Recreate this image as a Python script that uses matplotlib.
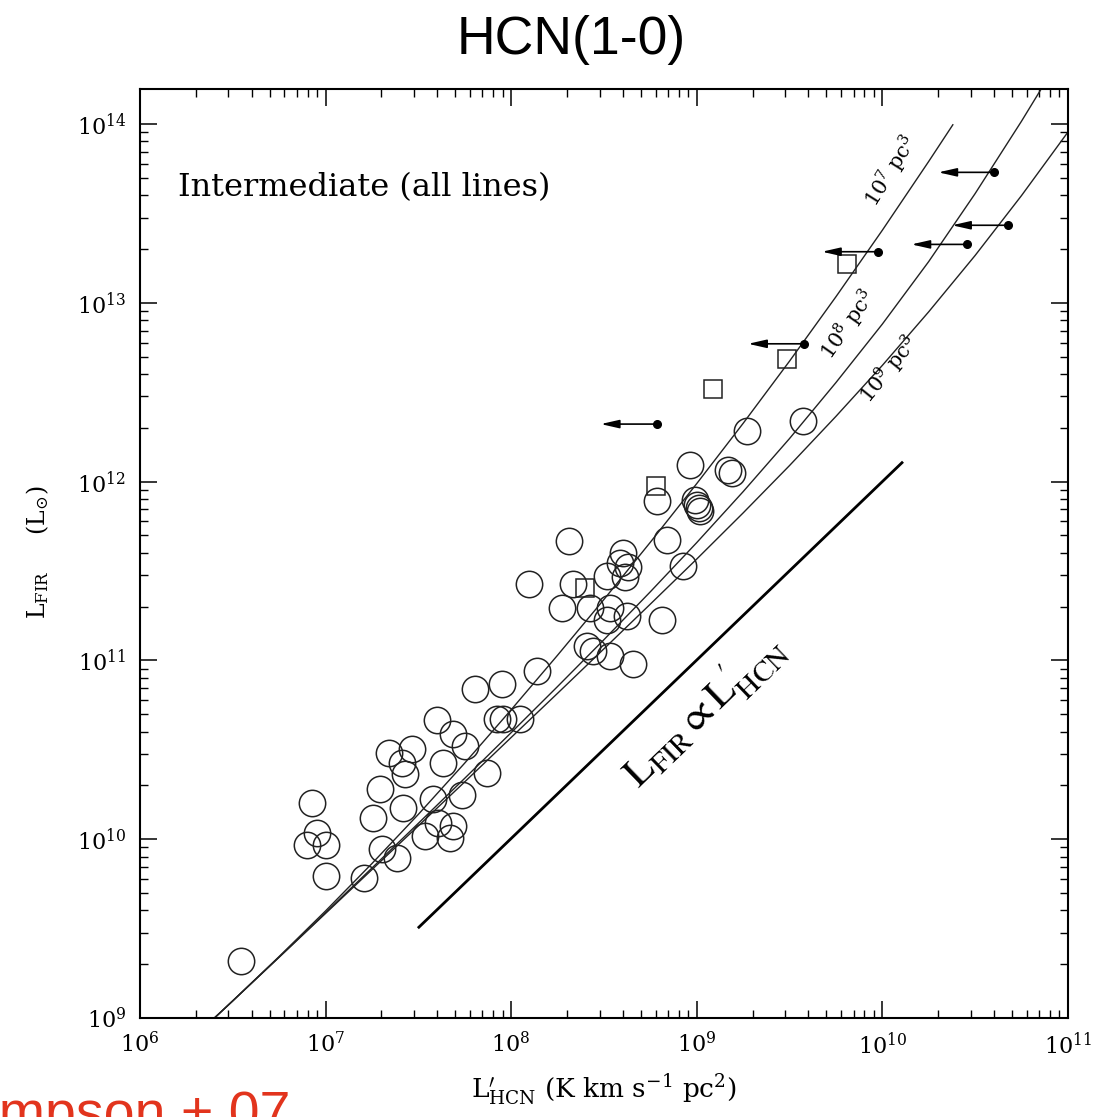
import numpy as np
import matplotlib
matplotlib.use("Agg")
import matplotlib.pyplot as plt
from matplotlib.ticker import LogLocator, LogFormatterMathtext, NullFormatter

plt.rcParams['font.family'] = ['DejaVu Serif']
plt.rcParams['mathtext.fontset'] = 'dejavuserif'

# galaxies (log10 L'_HCN, log10 L_FIR)
circ_lhcn = [6.543, 6.925, 6.952, 6.901, 7.002, 7.001, 7.207, 7.257, 7.293, 7.342,
             7.464, 7.410, 7.428, 7.419, 7.305, 7.383, 7.536, 7.580, 7.599, 7.688,
             7.751, 7.634, 7.737, 7.607, 7.688, 7.670, 7.868, 7.805, 7.922, 7.949,
             8.047, 7.957, 8.137, 8.098, 8.313, 8.335, 8.272, 8.425, 8.515, 8.602,
             8.586, 8.629, 8.613, 8.838, 8.532, 8.515, 8.622, 8.407, 8.441, 8.532,
             8.658, 8.811, 8.963, 9.170, 9.188, 8.784, 8.990, 8.999, 9.010, 9.020,
             8.927, 9.269, 9.574]
circ_lfir = [9.320, 10.201, 10.034, 9.968, 9.968, 9.792, 9.786, 10.121, 10.279, 10.480,
             10.503, 10.428, 10.363, 10.177, 9.948, 9.894, 10.018, 10.223, 10.666, 10.587,
             10.521, 10.428, 10.247, 10.093, 10.074, 10.009, 10.373, 10.838, 10.670, 10.866,
             10.670, 10.670, 10.940, 11.425, 11.667, 11.425, 11.294, 11.294, 11.471, 11.603,
             11.547, 11.525, 11.469, 11.676, 11.296, 11.229, 11.247, 11.080, 11.052, 11.024,
             10.978, 11.229, 12.095, 12.065, 12.050, 11.890, 11.900, 11.872, 11.850, 11.835,
             11.527, 12.281, 12.337]

sq_lhcn = [9.812, 9.484, 9.086, 8.779, 8.398]
sq_lfir = [13.218, 12.684, 12.521, 11.974, 11.408]

# upper limits in L'_HCN
lim_lhcn = [9.976, 9.578, 8.784, 10.603, 10.677, 10.458]
lim_lfir = [13.286, 12.771, 12.322, 13.730, 13.434, 13.327]

# model tracks for three cloud volumes
track_lhcn = [6.3, 6.5, 6.75, 7.0, 7.25, 7.5, 7.75, 8.0, 8.25, 8.5, 8.75,
              9.0, 9.25, 9.5, 9.75, 10.0, 10.25, 10.5, 10.75, 11.0]
v7_lfir = [8.902, 9.096, 9.344, 9.599, 9.864, 10.139, 10.426, 10.724, 11.029, 11.341,
           11.661, 11.989, 12.326, 12.674, 13.034, 13.406, 13.791]
v8_lfir = [8.902, 9.096, 9.341, 9.589, 9.839, 10.089, 10.341, 10.596, 10.854, 11.116,
           11.384, 11.659, 11.944, 12.241, 12.554, 12.881, 13.231, 13.611, 14.016, 14.441]
v9_lfir = [8.902, 9.096, 9.340, 9.585, 9.830, 10.075, 10.321, 10.569, 10.816, 11.065,
           11.315, 11.567, 11.825, 12.090, 12.365, 12.650, 12.950, 13.265, 13.600, 13.955]
v7_end = (10.38, 13.996)

# linear reference relation
lin_lhcn = [7.503, 10.106]
lin_lfir = [9.508, 12.106]

p = lambda v: 10 ** np.array(v)

fig = plt.figure(figsize=(11.16, 11.17), dpi=100)
ax = fig.add_axes([0.1254, 0.0886, 0.8315, 0.8317])

v7_x = track_lhcn[:len(v7_lfir)] + [v7_end[0]]
v7_y = v7_lfir + [v7_end[1]]
for lx, ly in [(v7_x, v7_y), (track_lhcn, v8_lfir), (track_lhcn, v9_lfir)]:
    ax.plot(p(lx), p(ly), color='#222222', lw=1.0)

ax.plot(p(lin_lhcn), p(lin_lfir), color='black', lw=2.0)

ax.plot(p(circ_lhcn), p(circ_lfir), 'o', ms=19, mfc='none', mec='#222222', mew=1.1)
ax.plot(p(sq_lhcn), p(sq_lfir), 's', ms=13.5, mfc='none', mec='#222222', mew=1.1)
ax.plot(p(lim_lhcn), p(lim_lfir), 'o', ms=5.5, color='black')
for lx, ly in zip(lim_lhcn, lim_lfir):
    ax.annotate('', xy=(10 ** lx / 2, 10 ** ly), xytext=(10 ** lx, 10 ** ly),
                arrowprops=dict(arrowstyle='-|>,head_length=1.1,head_width=0.25',
                                color='black', lw=1.2, shrinkA=0, shrinkB=0))

ax.set_xscale('log')
ax.set_yscale('log')
ax.set_xlim(1e6, 1e11)
ax.set_ylim(1e9, 10 ** 14.196)

for axis in [ax.xaxis, ax.yaxis]:
    axis.set_major_locator(LogLocator(base=10, numticks=20))
    axis.set_minor_locator(LogLocator(base=10, subs=np.arange(2, 10), numticks=20))
    axis.set_major_formatter(LogFormatterMathtext())
    axis.set_minor_formatter(NullFormatter())

ax.tick_params(which='both', direction='in', top=True, right=True, labelsize=16)
ax.tick_params(which='major', length=12, width=1.1, pad=10)
ax.tick_params(which='minor', length=6, width=1.0)
for s in ax.spines.values():
    s.set_linewidth(1.5)

ax.text(0.041, 0.8945, 'Intermediate (all lines)', transform=ax.transAxes,
        fontsize=23, va='center', ha='left')

ax.text(10 ** 10.046, 10 ** 13.737, r'$10^7\ \mathrm{pc}^3$', rotation=58,
        fontsize=15, ha='center', va='center')
ax.text(10 ** 9.815, 10 ** 12.877, r'$10^8\ \mathrm{pc}^3$', rotation=55,
        fontsize=15, ha='center', va='center')
ax.text(10 ** 10.036, 10 ** 12.626, r'$10^9\ \mathrm{pc}^3$', rotation=51,
        fontsize=15, ha='center', va='center')

ax.text(10 ** 9.04, 10 ** 10.72, r'$\mathrm{L_{FIR}} \propto \mathrm{L^{\prime}_{HCN}}$',
        rotation=44, fontsize=30, ha='center', va='center', math_fontfamily='stix')

fig.text(38 / 1116, 1 - 552 / 1117, r'$\mathrm{L_{FIR}}\ \ \ \ \ (\mathrm{L_{\odot}})$',
         rotation=90, fontsize=17, ha='center', va='center')
fig.text(604 / 1116, 1 - 1090 / 1117, r"$\mathrm{L^{\prime}_{HCN}}$ (K km s$^{-1}$ pc$^{2}$)",
         fontsize=19, ha='center', va='center')

fig.text(571 / 1116, 1 - 40 / 1117, 'HCN(1-0)', fontsize=38.5, ha='center', va='center',
         family='Liberation Sans')
fig.text(-97 / 1116, -0.012, 'Thompson + 07', fontsize=40, ha='left', va='baseline',
         family='Liberation Sans', color='#e2341d')

fig.savefig('out.png', dpi=100)
